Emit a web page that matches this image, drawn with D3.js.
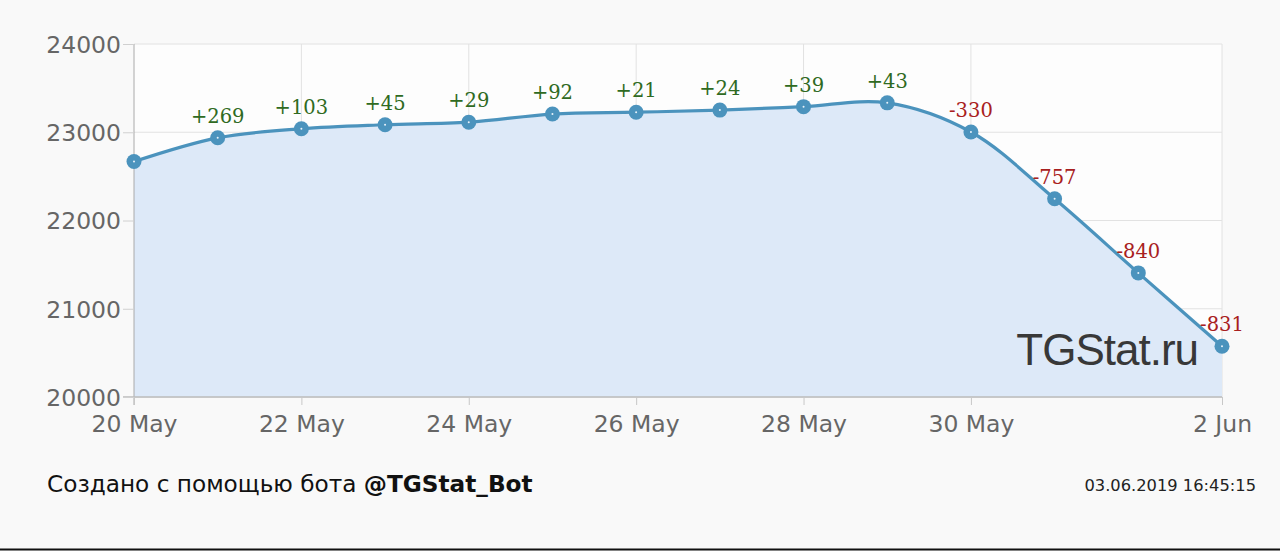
<!DOCTYPE html>
<html><head><meta charset="utf-8">
<script src="https://cdn.jsdelivr.net/npm/d3@7"></script>
<style>
html,body{margin:0;padding:0;background:#f9f9f9;}
svg{display:block;}
</style></head>
<body>
<script>
const dates = ["2019-05-20","2019-05-21","2019-05-22","2019-05-23","2019-05-24","2019-05-25","2019-05-26","2019-05-27","2019-05-28","2019-05-29","2019-05-30","2019-05-31","2019-06-01","2019-06-02"];
const subscribers = [22668,22937,23040,23085,23114,23206,23227,23251,23290,23333,23003,22246,21406,20575];
const changes = [null,"+269","+103","+45","+29","+92","+21","+24","+39","+43","-330","-757","-840","-831"];
const yTicks = [20000,21000,22000,23000,24000];
const xTickDates = ["2019-05-20","2019-05-22","2019-05-24","2019-05-26","2019-05-28","2019-05-30","2019-06-02"];
const footerText = "Создано с помощью бота ";
const footerBold = "@TGStat_Bot";
const stamp = "03.06.2019 16:45:15";
const watermark = "TGStat.ru";

const W = 1280, H = 551;
const parse = d3.utcParse("%Y-%m-%d");
const data = dates.map((d,i)=>({date:parse(d), v:subscribers[i], c:changes[i]}));

const svg = d3.select("body").append("svg").attr("width",W).attr("height",H);
svg.append("rect").attr("width",W).attr("height",H).attr("fill","#f9f9f9");

const L=134, R=1222, T=44, B=397;
const x = d3.scaleUtc().domain([parse(dates[0]), parse(dates[dates.length-1])]).range([L,R]);
const y = d3.scaleLinear().domain([20000,24000]).range([B,T]);

svg.append("rect").attr("x",L).attr("y",T).attr("width",R-L).attr("height",B-T).attr("fill","#fdfdfd");

// grid
const g = svg.append("g");
g.selectAll(".hg").data(yTicks).join("line")
  .attr("x1",L).attr("x2",R).attr("y1",d=>y(d)).attr("y2",d=>y(d))
  .attr("stroke","#e2e2e2").attr("stroke-width",1);
g.selectAll(".vg").data(xTickDates.slice(1)).join("line")
  .attr("x1",d=>x(parse(d))).attr("x2",d=>x(parse(d))).attr("y1",T).attr("y2",B)
  .attr("stroke","#e2e2e2").attr("stroke-width",1);

// area
const curve = d3.curveCatmullRom.alpha(0.5);
const area = d3.area().x(d=>x(d.date)).y0(B).y1(d=>y(d.v)).curve(curve);
svg.append("path").datum(data).attr("d",area).attr("fill","#dde9f8");

// axes lines
svg.append("line").attr("x1",L).attr("x2",L).attr("y1",T).attr("y2",B+8).attr("stroke","#aaaaaa");
svg.append("line").attr("x1",L-11).attr("x2",R).attr("y1",B).attr("y2",B).attr("stroke","#bbbbbb").attr("stroke-width",1.5);

// y axis
const yAxis = d3.axisLeft(y).tickValues(yTicks).tickSize(11).tickPadding(2).tickFormat(d3.format("d"));
const ya = svg.append("g").attr("transform",`translate(${L},0)`).call(yAxis);
ya.select(".domain").remove();
ya.selectAll(".tick line").attr("stroke","#d0d0d0");
ya.selectAll("text").attr("font-family","DejaVu Sans").attr("font-size",23.5).attr("fill","#666").attr("dy","0.36em");

// x axis
const xAxis = d3.axisBottom(x).tickValues(xTickDates.map(parse)).tickSize(8).tickPadding(10)
  .tickFormat(d=>{const m=d3.utcFormat("%b")(d); return d3.utcFormat("%-d")(d)+" "+m;});
const xa = svg.append("g").attr("transform",`translate(0,${B})`).call(xAxis);
xa.select(".domain").remove();
xa.selectAll(".tick line").attr("stroke","#c8c8c8");
xa.selectAll("text").attr("font-family","DejaVu Sans").attr("font-size",23.5).attr("fill","#666");

// watermark
svg.append("text").attr("x",1198).attr("y",365).attr("text-anchor","end")
  .attr("font-family","Liberation Sans").attr("font-size",44).attr("fill","#383838").attr("letter-spacing","-1")
  .text(watermark);

// line
const line = d3.line().x(d=>x(d.date)).y(d=>y(d.v)).curve(curve);
svg.append("path").datum(data).attr("d",line).attr("fill","none").attr("stroke","#4b93bd").attr("stroke-width",3.2);

// markers
svg.selectAll(".pt").data(data).join("circle")
  .attr("cx",d=>x(d.date)).attr("cy",d=>y(d.v)).attr("r",7.5).attr("fill","#4b93bd");
svg.selectAll(".pc").data(data).join("circle")
  .attr("cx",d=>x(d.date)).attr("cy",d=>y(d.v)).attr("r",1).attr("fill","#e8f2fa");

// labels
svg.selectAll(".lb").data(data.filter(d=>d.c)).join("text")
  .attr("x",d=>x(d.date)).attr("y",d=>y(d.v)-15).attr("text-anchor","middle")
  .attr("font-family","DejaVu Serif").attr("font-size",19.5)
  .attr("fill",d=>d.c[0]==="+"?"#2f6a22":"#a82020")
  .text(d=>d.c);

// footer
const ft = svg.append("text").attr("x",47).attr("y",492).attr("font-family","DejaVu Sans").attr("font-size",23.2).attr("fill","#111");
ft.append("tspan").text(footerText);
ft.append("tspan").attr("font-weight","bold").text(footerBold);
svg.append("text").attr("x",1256).attr("y",491).attr("text-anchor","end").attr("font-family","DejaVu Sans").attr("font-size",16.3).attr("fill","#222").text(stamp);
svg.append("line").attr("x1",0).attr("x2",W).attr("y1",549.5).attr("y2",549.5).attr("stroke","#111").attr("stroke-width",2);
</script>
</body></html>
